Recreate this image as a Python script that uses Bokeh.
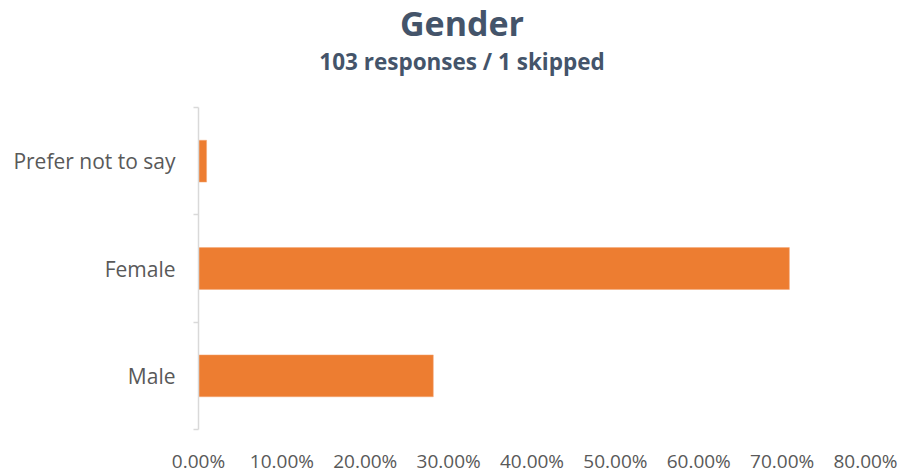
from bokeh.plotting import figure
from bokeh.models import FixedTicker, NumeralTickFormatter, Range1d, Div
from bokeh.layouts import column
from bokeh.embed import file_html
from bokeh.resources import INLINE

categories = ["Male", "Female", "Prefer not to say"]
shares = [0.2816, 0.7087, 0.0097]
x_ticks = [0.0, 0.1, 0.2, 0.3, 0.4, 0.5, 0.6, 0.7, 0.8]
title_text = "Gender"
subtitle_text = "103 responses / 1 skipped"

FONT = "Open Sans"
LABEL_COLOR = "#595959"
TITLE_COLOR = "#44546A"
BAR_COLOR = "#ED7D31"

W, H = 904, 476
HEAD_H = 90

ypos = [i + 0.5 for i in range(len(categories))]

head = Div(
    text=(
        f'<div style="box-sizing:border-box;text-align:center;font-family:\'{FONT}\';font-weight:bold;'
        f'color:{TITLE_COLOR};width:{W}px;padding-left:20px">'
        f'<div style="font-size:34px;line-height:46px;height:46px">{title_text}</div>'
        f'<div style="font-size:22.5px;line-height:31px;height:31px">{subtitle_text}</div>'
        f'</div>'
    ),
    width=W, height=HEAD_H, margin=0,
)

p = figure(width=W, height=H - HEAD_H, output_backend="svg", toolbar_location=None,
           x_range=Range1d(0, 0.8), y_range=Range1d(0, len(categories)),
           min_border_left=198, min_border_right=39, min_border_bottom=45, min_border_top=17,
           margin=0)
p.title.visible = False
p.outline_line_color = None
p.grid.visible = False

p.hbar(y=ypos, right=shares, left=0, height=0.39, fill_color=BAR_COLOR,
       line_color="#F4A878", line_width=0.5)

# x axis
xa = p.xaxis[0]
xa.ticker = FixedTicker(ticks=x_ticks, minor_ticks=[])
xa.formatter = NumeralTickFormatter(format="0.00%")
xa.axis_line_color = None
xa.major_tick_line_color = None
xa.major_tick_out = 0
xa.major_tick_in = 0
xa.minor_tick_line_color = None
xa.minor_tick_out = 0
xa.major_label_text_font = FONT
xa.major_label_text_font_size = "19px"
xa.major_label_text_color = LABEL_COLOR
xa.major_label_standoff = 18

# y axis
ya = p.yaxis[0]
ya.ticker = FixedTicker(ticks=ypos, minor_ticks=list(range(len(categories) + 1)))
ya.major_label_overrides = {y: c for y, c in zip(ypos, categories)}
ya.axis_line_color = "#D9D9D9"
ya.axis_line_width = 1.5
ya.major_tick_line_color = None
ya.major_tick_out = 0
ya.major_tick_in = 0
ya.minor_tick_line_color = "#D9D9D9"
ya.minor_tick_line_width = 1.5
ya.minor_tick_out = 5
ya.minor_tick_in = 0
ya.major_label_text_font = FONT
ya.major_label_text_font_size = "21px"
ya.major_label_text_color = LABEL_COLOR
ya.major_label_standoff = 18

layout = column(head, p, spacing=0, margin=0)

open("out.html", "w").write(file_html(layout, INLINE))
